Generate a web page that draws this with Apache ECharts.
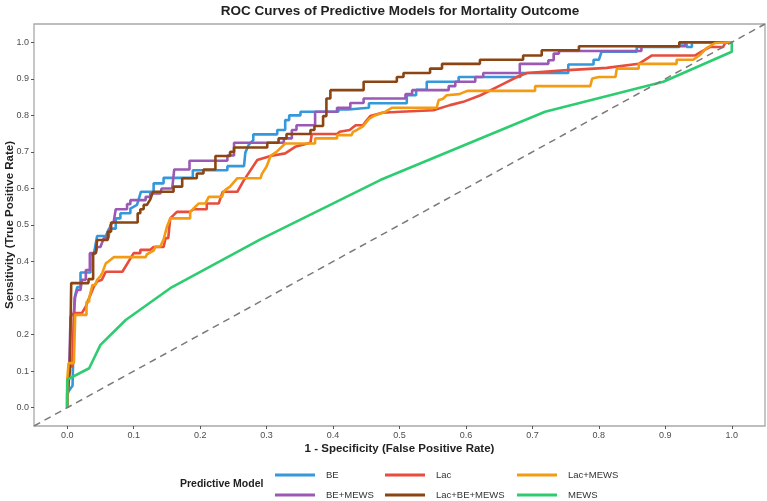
<!DOCTYPE html>
<html>
<head>
<meta charset="utf-8">
<script src="https://cdn.jsdelivr.net/npm/echarts@6/dist/echarts.min.js"></script>
<style>
  html, body { margin: 0; padding: 0; background: #fff; }
  #chart { width: 767px; height: 501px; }
</style>
</head>
<body>
<div id="chart"></div>
<script>
// ROC points, [fpr, tpr]
var beData = [[0,0],[0,0.04],[0.008,0.06],[0.011,0.30],[0.015,0.33],[0.02,0.33],[0.02,0.37],[0.035,0.37],[0.035,0.42],[0.04,0.42],[0.045,0.47],[0.058,0.47],[0.063,0.49],[0.073,0.49],[0.073,0.518],[0.08,0.518],[0.08,0.532],[0.095,0.532],[0.095,0.545],[0.105,0.555],[0.111,0.591],[0.13,0.591],[0.13,0.614],[0.145,0.614],[0.145,0.629],[0.189,0.629],[0.189,0.65],[0.241,0.65],[0.241,0.661],[0.266,0.661],[0.268,0.698],[0.273,0.719],[0.28,0.732],[0.28,0.748],[0.316,0.748],[0.316,0.76],[0.328,0.76],[0.328,0.787],[0.334,0.787],[0.334,0.80],[0.351,0.80],[0.351,0.81],[0.408,0.81],[0.408,0.816],[0.423,0.816],[0.423,0.821],[0.454,0.821],[0.454,0.833],[0.511,0.833],[0.511,0.855],[0.525,0.855],[0.525,0.87],[0.541,0.87],[0.541,0.892],[0.589,0.892],[0.589,0.905],[0.682,0.905],[0.682,0.916],[0.754,0.916],[0.754,0.939],[0.792,0.939],[0.792,0.952],[0.80,0.952],[0.804,0.974],[0.857,0.974],[0.857,0.987],[0.921,0.987],[0.921,0.997],[0.932,0.997],[0.932,0.987],[0.94,0.987],[0.94,1],[1,1]];
var beMewsData = [[0,0],[0,0.03],[0.002,0.049],[0.005,0.249],[0.01,0.26],[0.012,0.304],[0.015,0.322],[0.02,0.322],[0.022,0.35],[0.028,0.35],[0.028,0.377],[0.034,0.377],[0.034,0.423],[0.043,0.423],[0.045,0.44],[0.05,0.44],[0.055,0.464],[0.062,0.464],[0.065,0.50],[0.07,0.51],[0.073,0.543],[0.09,0.543],[0.09,0.557],[0.095,0.557],[0.095,0.568],[0.118,0.568],[0.118,0.577],[0.125,0.577],[0.125,0.586],[0.14,0.586],[0.142,0.60],[0.158,0.60],[0.161,0.652],[0.184,0.652],[0.184,0.676],[0.241,0.676],[0.241,0.69],[0.251,0.69],[0.251,0.725],[0.326,0.725],[0.326,0.737],[0.338,0.737],[0.338,0.76],[0.345,0.76],[0.345,0.773],[0.373,0.773],[0.373,0.81],[0.406,0.81],[0.406,0.821],[0.426,0.821],[0.426,0.834],[0.446,0.834],[0.446,0.846],[0.509,0.846],[0.509,0.858],[0.519,0.858],[0.519,0.869],[0.574,0.869],[0.574,0.88],[0.584,0.88],[0.584,0.892],[0.614,0.892],[0.614,0.905],[0.626,0.905],[0.626,0.916],[0.681,0.916],[0.681,0.941],[0.724,0.941],[0.724,0.951],[0.732,0.951],[0.732,0.969],[0.74,0.969],[0.74,0.976],[0.864,0.976],[0.864,0.989],[0.93,0.989],[0.93,1],[1,1]];
var lacData = [[0,0],[0,0.05],[0.003,0.113],[0.008,0.113],[0.01,0.259],[0.022,0.259],[0.028,0.277],[0.033,0.30],[0.04,0.331],[0.045,0.345],[0.052,0.35],[0.058,0.372],[0.083,0.372],[0.10,0.423],[0.11,0.423],[0.11,0.432],[0.125,0.432],[0.13,0.44],[0.145,0.44],[0.148,0.464],[0.152,0.464],[0.155,0.518],[0.165,0.536],[0.185,0.536],[0.19,0.543],[0.21,0.543],[0.21,0.559],[0.228,0.559],[0.234,0.591],[0.256,0.591],[0.265,0.62],[0.286,0.678],[0.306,0.689],[0.328,0.696],[0.343,0.714],[0.366,0.725],[0.368,0.749],[0.406,0.749],[0.41,0.755],[0.425,0.76],[0.434,0.773],[0.445,0.773],[0.45,0.785],[0.456,0.798],[0.474,0.807],[0.501,0.81],[0.551,0.814],[0.576,0.828],[0.596,0.837],[0.622,0.855],[0.657,0.887],[0.679,0.907],[0.692,0.916],[0.747,0.923],[0.812,0.93],[0.86,0.941],[0.88,0.964],[0.945,0.964],[0.955,0.975],[0.967,0.987],[0.987,0.987],[0.99,0.998],[1,1]];
var lacBeMewsData = [[0,0],[0,0.04],[0.004,0.10],[0.006,0.341],[0.032,0.341],[0.032,0.352],[0.039,0.352],[0.039,0.423],[0.043,0.423],[0.045,0.459],[0.061,0.459],[0.061,0.482],[0.066,0.482],[0.066,0.507],[0.106,0.507],[0.106,0.532],[0.11,0.532],[0.11,0.543],[0.115,0.543],[0.115,0.555],[0.12,0.555],[0.125,0.57],[0.129,0.591],[0.16,0.591],[0.16,0.605],[0.173,0.605],[0.173,0.628],[0.195,0.628],[0.195,0.641],[0.205,0.641],[0.205,0.652],[0.223,0.652],[0.223,0.689],[0.245,0.689],[0.245,0.70],[0.251,0.70],[0.251,0.712],[0.301,0.712],[0.301,0.725],[0.318,0.725],[0.318,0.737],[0.33,0.737],[0.33,0.749],[0.366,0.749],[0.366,0.76],[0.372,0.76],[0.372,0.771],[0.385,0.771],[0.385,0.798],[0.39,0.798],[0.39,0.846],[0.396,0.846],[0.396,0.869],[0.446,0.869],[0.446,0.892],[0.496,0.892],[0.496,0.905],[0.506,0.905],[0.506,0.916],[0.546,0.916],[0.546,0.928],[0.564,0.928],[0.564,0.941],[0.621,0.941],[0.621,0.952],[0.686,0.952],[0.686,0.964],[0.714,0.964],[0.714,0.978],[0.77,0.978],[0.77,0.989],[0.921,0.989],[0.921,1],[1,1]];
var lacMewsData = [[0,0],[0,0.077],[0.002,0.122],[0.01,0.122],[0.012,0.254],[0.029,0.254],[0.029,0.29],[0.033,0.29],[0.033,0.30],[0.038,0.336],[0.042,0.336],[0.045,0.35],[0.05,0.36],[0.053,0.37],[0.058,0.395],[0.062,0.40],[0.07,0.412],[0.118,0.412],[0.12,0.42],[0.13,0.43],[0.133,0.441],[0.14,0.441],[0.145,0.46],[0.15,0.495],[0.155,0.518],[0.185,0.518],[0.185,0.536],[0.19,0.545],[0.198,0.559],[0.208,0.559],[0.213,0.577],[0.233,0.577],[0.235,0.59],[0.238,0.596],[0.245,0.605],[0.256,0.628],[0.291,0.628],[0.293,0.64],[0.30,0.66],[0.306,0.689],[0.315,0.70],[0.328,0.723],[0.373,0.723],[0.373,0.737],[0.406,0.737],[0.406,0.746],[0.428,0.746],[0.43,0.755],[0.436,0.76],[0.445,0.77],[0.454,0.79],[0.461,0.798],[0.479,0.81],[0.489,0.821],[0.556,0.821],[0.559,0.842],[0.565,0.845],[0.571,0.855],[0.59,0.858],[0.602,0.867],[0.704,0.867],[0.704,0.88],[0.787,0.88],[0.79,0.901],[0.80,0.905],[0.825,0.905],[0.827,0.928],[0.86,0.928],[0.86,0.941],[0.917,0.941],[0.917,0.952],[0.942,0.952],[0.952,0.965],[0.962,0.984],[0.975,0.998],[1,1]];
var mewsData = [[0,0],[0,0.077],[0.033,0.108],[0.05,0.172],[0.088,0.24],[0.155,0.327],[0.29,0.46],[0.471,0.623],[0.719,0.81],[0.897,0.892],[1,0.974],[1,1]];
var refLine = [[-0.05,-0.05],[1.05,1.05]];

var modelNames = ['BE', 'BE+MEWS', 'Lac', 'Lac+BE+MEWS', 'Lac+MEWS', 'MEWS'];
var modelData = [beData, beMewsData, lacData, lacBeMewsData, lacMewsData, mewsData];
var modelColors = ['#3498DB', '#9B59B6', '#E74C3C', '#8B4513', '#F39C12', '#2ECC71'];

var xTicks = [0, 0.1, 0.2, 0.3, 0.4, 0.5, 0.6, 0.7, 0.8, 0.9, 1.0];
var yTicks = [0, 0.1, 0.2, 0.3, 0.4, 0.5, 0.6, 0.7, 0.8, 0.9, 1.0];

var font = 'Liberation Sans, Arial, sans-serif';
var chart = echarts.init(document.getElementById('chart'));

var series = modelNames.map(function (name, i) {
  return {
    name: name,
    type: 'line',
    data: modelData[i],
    showSymbol: false,
    symbol: 'none',
    color: modelColors[i],
    lineStyle: { width: 2.6, color: modelColors[i] },
    z: 3 + i
  };
});
series.push({
  name: 'ref',
  type: 'line',
  data: refLine,
  symbol: 'none',
  lineStyle: { width: 1.5, color: '#7a7a7a', type: [7, 5] },
  z: 10
});

function legendCol(left, names) {
  return {
    orient: 'vertical',
    left: left,
    top: 469,
    height: 40,
    padding: 0,
    itemGap: 8,
    itemWidth: 40,
    itemHeight: 3,
    icon: 'rect',
    data: names,
    textStyle: { fontFamily: font, fontSize: 9.5, color: '#333', lineHeight: 12, padding: [0, 0, 0, 6] }
  };
}

chart.setOption({
  animation: false,
  backgroundColor: '#fff',
  title: {
    text: 'ROC Curves of Predictive Models for Mortality Outcome',
    left: 400,
    textAlign: 'center',
    top: 4,
    padding: 0,
    textStyle: { fontFamily: font, fontSize: 13.5, fontWeight: 'bold', color: '#222' }
  },
  grid: {
    left: 34, right: 2, top: 24, bottom: 75,
    containLabel: false,
    outerBoundsMode: 'none',
    show: true, borderColor: '#a8a8a8', borderWidth: 1.3, backgroundColor: '#fff'
  },
  legend: [
    legendCol(275, ['BE', 'BE+MEWS']),
    legendCol(385, ['Lac', 'Lac+BE+MEWS']),
    legendCol(517, ['Lac+MEWS', 'MEWS'])
  ],
  graphic: [{
    type: 'text',
    left: 180,
    top: 479,
    style: { text: 'Predictive Model', font: 'bold 10.5px ' + font, fill: '#222' }
  }],
  xAxis: {
    type: 'value',
    min: -0.05,
    max: 1.05,
    name: '1 - Specificity (False Positive Rate)',
    nameLocation: 'middle',
    nameGap: 17,
    nameMoveOverlap: false,
    nameTextStyle: { fontFamily: font, fontSize: 11.5, fontWeight: 'bold', color: '#222' },
    axisLine: { show: false, onZero: false },
    axisTick: { show: true, length: 3, customValues: xTicks, lineStyle: { color: '#555' } },
    axisLabel: {
      customValues: xTicks, margin: 5, fontFamily: font, fontSize: 9, color: '#4d4d4d',
      formatter: function (v) { return v.toFixed(1); }
    },
    splitLine: { show: false }
  },
  yAxis: {
    type: 'value',
    min: -0.05,
    max: 1.05,
    name: 'Sensitivity (True Positive Rate)',
    nameLocation: 'middle',
    nameGap: 18,
    nameMoveOverlap: false,
    nameTextStyle: { fontFamily: font, fontSize: 11.5, fontWeight: 'bold', color: '#222' },
    axisLine: { show: false, onZero: false },
    axisTick: { show: true, length: 3, customValues: yTicks, lineStyle: { color: '#555' } },
    axisLabel: {
      customValues: yTicks, margin: 5, fontFamily: font, fontSize: 9, color: '#4d4d4d',
      formatter: function (v) { return v.toFixed(1); }
    },
    splitLine: { show: false }
  },
  series: series
});
</script>
</body>
</html>
